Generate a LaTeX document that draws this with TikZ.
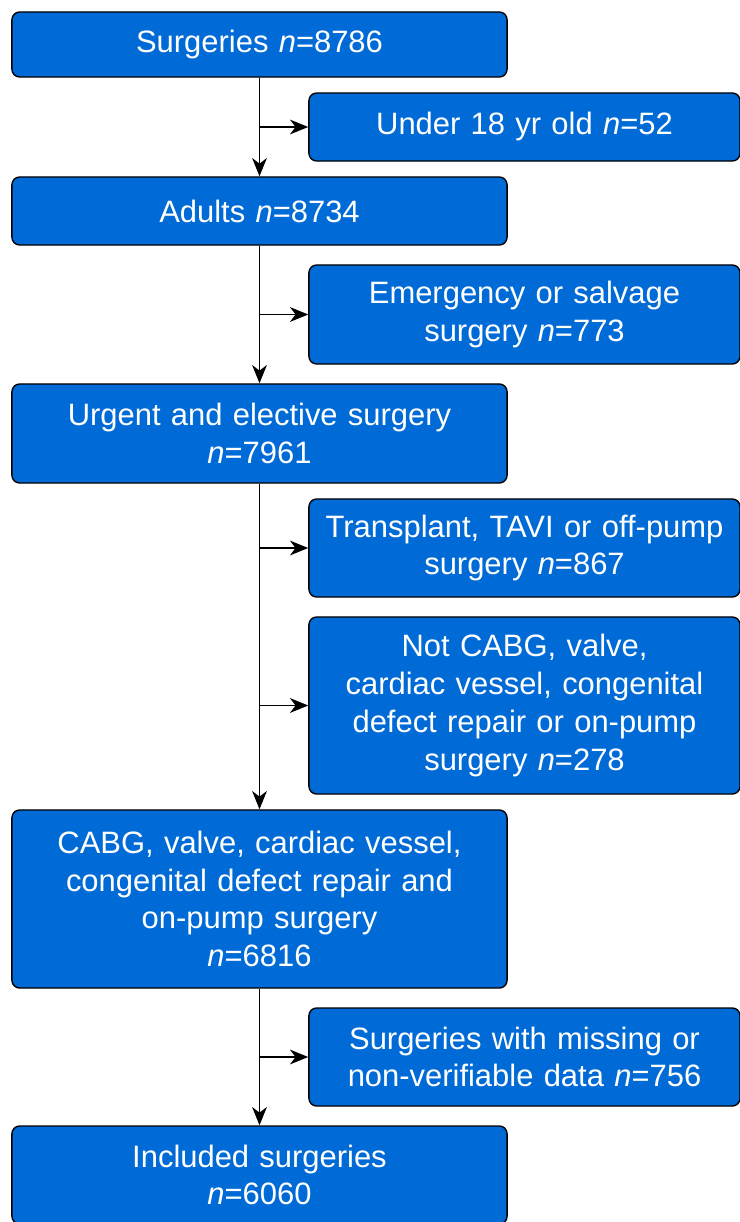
\documentclass[tikz,border=0pt]{standalone}
\usepackage{fontspec}
\setmainfont{Liberation Sans}
\usetikzlibrary{arrows.meta}

\definecolor{flowblue}{RGB}{0,107,214}

\tikzset{
  flowbox/.style={draw=black, line width=1pt, fill=flowblue, rounded corners=5.5pt,
    text=white, align=center, inner sep=0pt,
    font=\fontsize{22}{26.9}\selectfont},
  mainbox/.style={flowbox, minimum width=12.375cm, text width=12cm},
  sidebox/.style={flowbox, minimum width=10.775cm, text width=10.5cm},
  flowarrow/.style={draw=black, line width=1pt,
    -{Stealth[length=13pt, width=10.5pt, inset=4pt]}}
}

\newcommand{\nn}{\textit{n}}

\begin{document}
\begin{tikzpicture}[x=0.025cm, y=-0.025cm]
  \useasboundingbox (0,0) rectangle (740,1222);

  % main column
  \node[mainbox, minimum height=1.625cm] (surg) at (259.5,44.5) {Surgeries \nn=8786};
  \node[mainbox, minimum height=1.7cm] (adults) at (259.5,211) {Adults \nn=8734};
  \node[mainbox, minimum height=2.475cm] (urgent) at (259.5,433.5) {Urgent and elective surgery\\\nn=7961};
  \node[mainbox, minimum height=4.45cm] (cabg) at (259.5,899) {CABG, valve, cardiac vessel,\\congenital defect repair and\\on-pump surgery\\\nn=6816};
  \node[mainbox, minimum height=2.45cm] (incl) at (259.5,1175) {Included surgeries\\\nn=6060};

  % exclusions
  \node[sidebox, minimum height=1.7cm] (under) at (524.5,127) {Under 18 yr old \nn=52};
  \node[sidebox, minimum height=2.475cm] (emerg) at (524.5,314.5) {Emergency or salvage\\surgery \nn=773};
  \node[sidebox, minimum height=2.45cm] (transp) at (524.5,548) {Transplant, TAVI or off-pump\\surgery \nn=867};
  \node[sidebox, minimum height=4.425cm] (notcabg) at (524.5,705.5) {Not CABG, valve,\\cardiac vessel, congenital\\defect repair or on-pump\\surgery \nn=278};
  \node[sidebox, minimum height=2.45cm] (missing) at (524.5,1057) {Surgeries with missing or\\non-verifiable data \nn=756};

  % trunk
  \draw[flowarrow] (surg) -- (adults);
  \draw[flowarrow] (adults) -- (urgent);
  \draw[flowarrow] (urgent) -- (cabg);
  \draw[flowarrow] (cabg) -- (incl);

  % branches
  \draw[flowarrow] (surg.south |- under.west) -- (under.west);
  \draw[flowarrow] (adults.south |- emerg.west) -- (emerg.west);
  \draw[flowarrow] (urgent.south |- transp.west) -- (transp.west);
  \draw[flowarrow] (urgent.south |- notcabg.west) -- (notcabg.west);
  \draw[flowarrow] (cabg.south |- missing.west) -- (missing.west);
\end{tikzpicture}
\end{document}
